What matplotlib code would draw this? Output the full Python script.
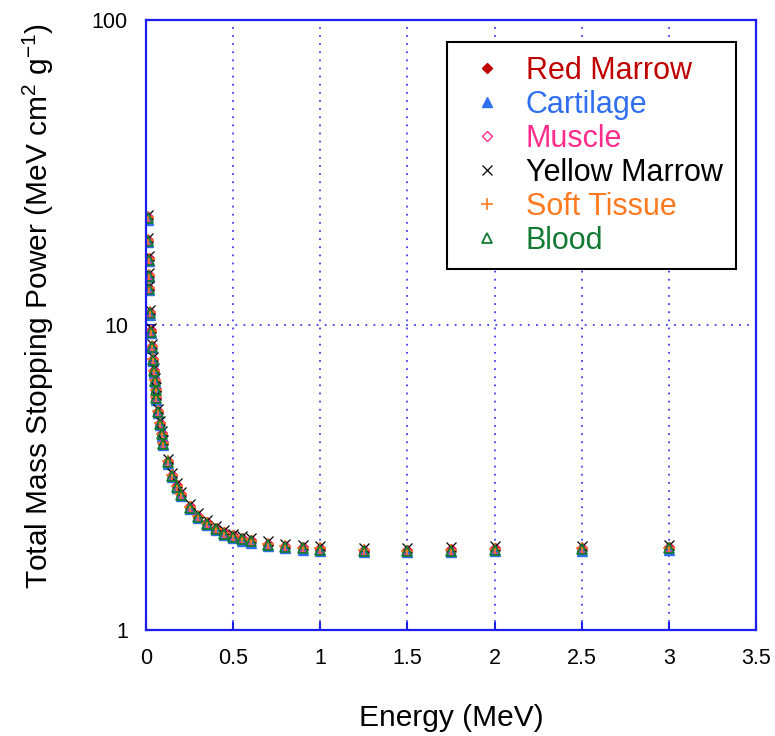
import numpy as np
import matplotlib
matplotlib.use("Agg")
import matplotlib.pyplot as plt

plt.rcParams['font.family'] = ['Liberation Sans', 'DejaVu Sans']
plt.rcParams['mathtext.default'] = 'regular'

# Energía (MeV), malla tipo ESTAR
energy = [0.01, 0.0125, 0.015, 0.0175, 0.02, 0.025, 0.03, 0.035, 0.04, 0.045,
          0.05, 0.055, 0.06, 0.07, 0.08, 0.09, 0.1, 0.125, 0.15, 0.175,
          0.2, 0.25, 0.3, 0.35, 0.4, 0.45, 0.5, 0.55, 0.6, 0.7,
          0.8, 0.9, 1.0, 1.25, 1.5, 1.75, 2.0, 2.5, 3.0]

# Poder de frenado total (MeV cm2/g)
red_marrow = [22.6, 19.0, 16.5, 14.6, 13.2, 11.0, 9.6, 8.55, 7.75, 7.1,
              6.6, 6.15, 5.8, 5.22, 4.77, 4.41, 4.12, 3.58, 3.23, 2.98,
              2.80, 2.54, 2.37, 2.25, 2.16, 2.09, 2.04, 2.00, 1.97, 1.92,
              1.89, 1.87, 1.85, 1.83, 1.83, 1.84, 1.85, 1.86, 1.87]
cartilage = [22.1, 18.6, 16.2, 14.3, 12.95, 10.8, 9.4, 8.38, 7.6, 6.96,
             6.47, 6.03, 5.69, 5.12, 4.68, 4.33, 4.04, 3.51, 3.17, 2.92,
             2.75, 2.49, 2.32, 2.21, 2.12, 2.05, 2.00, 1.96, 1.93, 1.88,
             1.85, 1.83, 1.81, 1.80, 1.80, 1.80, 1.81, 1.82, 1.83]
muscle = [22.5, 18.9, 16.4, 14.5, 13.1, 10.95, 9.55, 8.5, 7.71, 7.06,
          6.57, 6.12, 5.77, 5.19, 4.75, 4.39, 4.10, 3.56, 3.21, 2.97,
          2.79, 2.53, 2.36, 2.24, 2.15, 2.08, 2.03, 1.99, 1.96, 1.91,
          1.88, 1.86, 1.84, 1.82, 1.82, 1.83, 1.84, 1.85, 1.86]
yellow_marrow = [22.9, 19.3, 16.75, 14.8, 13.4, 11.15, 9.75, 8.68, 7.87, 7.2,
                 6.7, 6.24, 5.89, 5.3, 4.84, 4.48, 4.18, 3.63, 3.28, 3.03,
                 2.84, 2.58, 2.41, 2.29, 2.19, 2.12, 2.07, 2.03, 2.0, 1.95,
                 1.92, 1.9, 1.88, 1.86, 1.86, 1.87, 1.88, 1.89, 1.9]
soft_tissue = [22.6, 18.95, 16.45, 14.55, 13.15, 10.97, 9.57, 8.52, 7.73, 7.08,
               6.58, 6.13, 5.78, 5.2, 4.76, 4.4, 4.11, 3.57, 3.22, 2.97,
               2.79, 2.53, 2.36, 2.24, 2.15, 2.08, 2.03, 1.99, 1.96, 1.91,
               1.88, 1.86, 1.85, 1.83, 1.82, 1.83, 1.84, 1.85, 1.86]
blood = [22.3, 18.8, 16.3, 14.45, 13.05, 10.9, 9.5, 8.46, 7.67, 7.03,
         6.53, 6.09, 5.74, 5.17, 4.72, 4.37, 4.08, 3.54, 3.2, 2.95,
         2.77, 2.51, 2.35, 2.23, 2.14, 2.07, 2.02, 1.98, 1.95, 1.9,
         1.87, 1.85, 1.83, 1.81, 1.81, 1.82, 1.83, 1.84, 1.85]

x_ticks = [0, 0.5, 1, 1.5, 2, 2.5, 3, 3.5]
y_ticks = [1, 10, 100]
y_tick_labels = ['1', '10', '100']

series = [
    ("Red Marrow", red_marrow, dict(marker='D', color='#C00000', mfc='#C00000', ms=5.5)),
    ("Cartilage", cartilage, dict(marker='^', color='#2F6FF0', mfc='#2F6FF0', ms=7)),
    ("Muscle", muscle, dict(marker='D', color='#FF2C8C', mfc='none', ms=5.5, mew=1)),
    ("Yellow Marrow", yellow_marrow, dict(marker='x', color='black', ms=7, mew=0.9)),
    ("Soft Tissue", soft_tissue, dict(marker='+', color='#FF7A1F', ms=8, mew=1.2)),
    ("Blood", blood, dict(marker='^', color='#137A33', mfc='none', ms=7, mew=1.3)),
]

blue = '#1E1EF0'

fig = plt.figure(figsize=(7.75, 7.36), dpi=100)
ax = fig.add_axes([146/775, 1-630/736, 610/775, (630-19.5)/736])

for name, vals, st in series:
    ax.plot(energy, vals, linestyle='none', label=name, **st)

ax.set_yscale('log')
ax.set_xlim(0, 3.5)
ax.set_ylim(1, 100)
ax.set_xticks(x_ticks)
ax.set_xticklabels([('%g' % t) for t in x_ticks])
ax.set_yticks(y_ticks)
ax.set_yticklabels(y_tick_labels)
ax.yaxis.set_minor_locator(matplotlib.ticker.NullLocator())

for s in ax.spines.values():
    s.set_color(blue)
    s.set_linewidth(1.6)
ax.tick_params(axis='both', direction='in', length=6, width=1.5, color=blue,
               labelsize=15.5, pad=13, labelcolor='black')
ax.grid(True, which='major', color=blue, linestyle=(0, (1, 3.5)), linewidth=1.3, alpha=0.85)

ax.set_xlabel("Energy (MeV)", fontsize=21.5, labelpad=25)
ax.set_ylabel("Total Mass Stopping Power (MeV cm$^{2}$ g$^{-1}$)", fontsize=21.5)
ax.yaxis.set_label_coords(-0.148, 0.531)

leg = ax.legend(loc='upper left', bbox_to_anchor=((447-146)/610, (630-42)/610.5),
                fontsize=22, frameon=True, fancybox=False, framealpha=1,
                edgecolor='black', labelspacing=0.13, handlelength=1.7,
                handletextpad=0.43, borderpad=0.45, borderaxespad=0)
leg.get_frame().set_linewidth(1.5)
for txt, (name, vals, st) in zip(leg.get_texts(), series):
    txt.set_color(st['color'])

fig.savefig("out.png", dpi=100)
